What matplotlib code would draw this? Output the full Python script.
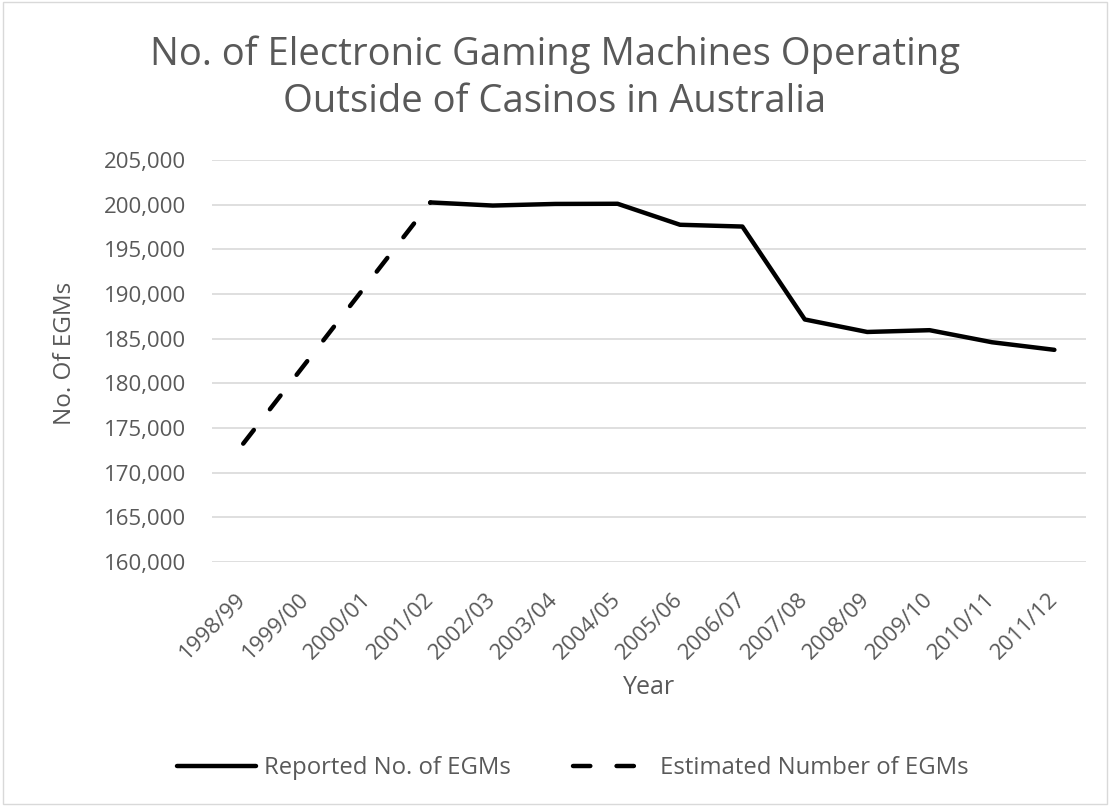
import matplotlib.pyplot as plt
from matplotlib.ticker import FuncFormatter
from matplotlib.patches import Rectangle

# years (financial) on the x axis
years = ['1998/99', '1999/00', '2000/01', '2001/02', '2002/03', '2003/04', '2004/05',
         '2005/06', '2006/07', '2007/08', '2008/09', '2009/10', '2010/11', '2011/12']

# reported counts, 2001/02 onwards
reported = [200250, 199900, 200080, 200100, 197750, 197550, 187150,
            185750, 185950, 184600, 183750]

# estimated counts, 1998/99 to 2001/02
estimated = [173250, 182250, 191250, 200250]

plt.rcParams['font.family'] = ['Open Sans', 'DejaVu Sans']
grey = '#595959'

fig = plt.figure(figsize=(11.1, 8.06), dpi=100)
ax = fig.add_axes([0.191, 0.3027, 0.787, 0.4988])

x_all = list(range(len(years)))
ax.plot(x_all[3:], reported, color='black', lw=3.2, solid_joinstyle='round',
        solid_capstyle='round', label='Reported No. of EGMs')
ax.plot(x_all[:4], estimated, color='black', lw=3.2, linestyle=(0, (3.9, 5.9)),
        dash_capstyle='round', label='Estimated Number of EGMs')

ax.set_xlim(-0.5, len(years) - 0.5)
ax.set_ylim(160000, 205000)
ax.set_yticks(range(160000, 205001, 5000))
ax.yaxis.set_major_formatter(FuncFormatter(lambda v, p: f'{int(v):,}'))
ax.set_xticks(x_all)
ax.set_xticklabels(years, rotation=45, ha='right', va='center', rotation_mode='anchor')

ax.grid(axis='y', color='#d9d9d9', lw=1.2)
ax.set_axisbelow(True)
for s in ax.spines.values():
    s.set_visible(False)
ax.tick_params(axis='both', length=0, colors=grey, labelsize=16)
ax.tick_params(axis='y', pad=18.5)
ax.tick_params(axis='x', pad=25)

ax.set_xlabel('Year', fontsize=18, color=grey)
ax.xaxis.set_label_coords(0.5, -0.28)
ax.set_ylabel('No. Of EGMs', fontsize=17.5, color=grey)
ax.yaxis.set_label_coords(-0.155, 0.52)

fig.text(0.5, 0.9194, 'No. of Electronic Gaming Machines Operating',
         ha='center', va='baseline', fontsize=27.5, color=grey)
fig.text(0.5, 0.861, 'Outside of Casinos in Australia',
         ha='center', va='baseline', fontsize=27.5, color=grey)

fig.legend(loc='center', bbox_to_anchor=(0.516, 0.047), ncol=2, frameon=False,
           fontsize=17.2, labelcolor=grey, handlelength=3.3, handletextpad=0.35,
           columnspacing=2.6)

fig.patches.append(Rectangle((0.003, 0.003), 0.994, 0.994, transform=fig.transFigure,
                             fill=False, edgecolor='#d9d9d9', lw=1))

fig.savefig('out.png', dpi=100)
